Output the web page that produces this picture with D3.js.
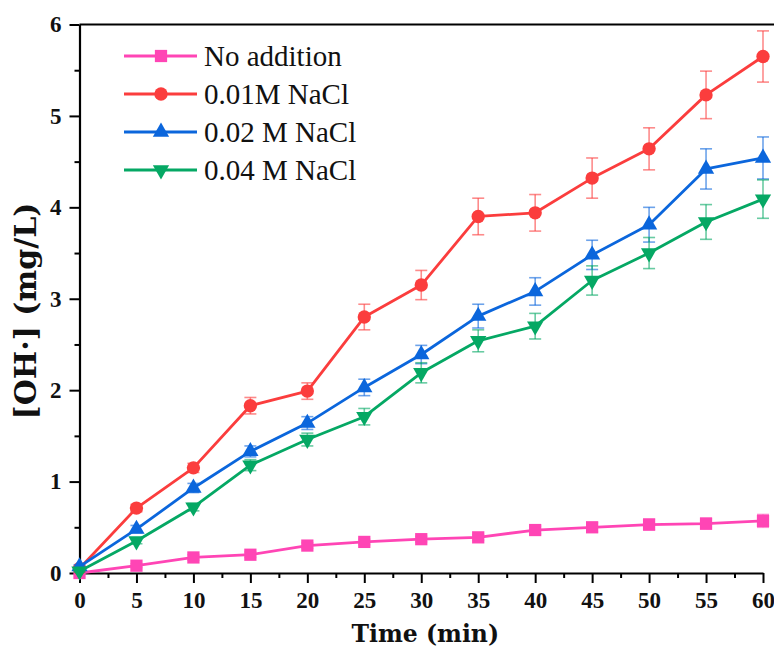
<!DOCTYPE html>
<html>
<head>
<meta charset="utf-8">
<script src="https://cdn.jsdelivr.net/npm/d3@7"></script>
<style>
  html, body { margin: 0; padding: 0; background: #ffffff; }
  svg { display: block; }
</style>
</head>
<body>
<svg id="chart" width="774" height="648"></svg>
<script>
// Sampling times (min)
const times = [0, 5, 10, 15, 20, 25, 30, 35, 40, 45, 50, 55, 60];

// Hydroxyl radical concentration (mg/L) and standard deviations
const noAddition    = [0.00, 0.08, 0.17, 0.20, 0.30, 0.34, 0.37, 0.39, 0.47, 0.50, 0.53, 0.54, 0.57];
const noAdditionErr = [0.00, 0.02, 0.03, 0.03, 0.03, 0.03, 0.03, 0.03, 0.04, 0.05, 0.06, 0.06, 0.07];
const nacl001       = [0.05, 0.71, 1.15, 1.83, 1.99, 2.80, 3.15, 3.90, 3.94, 4.32, 4.64, 5.23, 5.65];
const nacl001Err    = [0.02, 0.04, 0.05, 0.09, 0.09, 0.14, 0.16, 0.20, 0.20, 0.22, 0.23, 0.26, 0.28];
const nacl002       = [0.07, 0.48, 0.93, 1.33, 1.64, 2.03, 2.39, 2.81, 3.08, 3.48, 3.81, 4.42, 4.54];
const nacl002Err    = [0.02, 0.04, 0.05, 0.06, 0.07, 0.09, 0.10, 0.13, 0.15, 0.16, 0.19, 0.22, 0.23];
const nacl004       = [0.02, 0.35, 0.72, 1.18, 1.46, 1.71, 2.19, 2.54, 2.70, 3.20, 3.50, 3.84, 4.09];
const nacl004Err    = [0.01, 0.03, 0.04, 0.06, 0.07, 0.09, 0.11, 0.12, 0.14, 0.16, 0.17, 0.19, 0.21];

const seriesNames = ["No addition", "0.01M NaCl", "0.02 M NaCl", "0.04 M NaCl"];
const seriesColors = ["#ff45b5", "#fb3d3d", "#0b66dc", "#05a864"];

const xTicks = [0, 5, 10, 15, 20, 25, 30, 35, 40, 45, 50, 55, 60];
const yTicks = [0, 1, 2, 3, 4, 5, 6];

const series = [
  { name: seriesNames[0], values: noAddition, errors: noAdditionErr, color: seriesColors[0], shape: "square" },
  { name: seriesNames[1], values: nacl001,    errors: nacl001Err,    color: seriesColors[1], shape: "circle" },
  { name: seriesNames[2], values: nacl002,    errors: nacl002Err,    color: seriesColors[2], shape: "up" },
  { name: seriesNames[3], values: nacl004,    errors: nacl004Err,    color: seriesColors[3], shape: "down" }
];

const svg = d3.select("#chart");
const plot = { left: 79.5, right: 763, top: 24.5, bottom: 573 };

const x = d3.scaleLinear().domain([0, 60]).range([plot.left, plot.right]);
const y = d3.scaleLinear().domain([0, 6]).range([plot.bottom, plot.top]);

const tickFont = "'Liberation Serif', 'Times New Roman', serif";
const titleFont = "'DejaVu Serif', serif";

// Minor ticks
const gx = svg.append("g").attr("transform", `translate(0,${plot.bottom})`);
gx.call(d3.axisBottom(x).tickValues(d3.range(2.5, 60, 5)).tickSize(5).tickFormat(""));
gx.call(g => g.select(".domain").remove());
const gy = svg.append("g").attr("transform", `translate(${plot.left},0)`);
gy.call(d3.axisLeft(y).tickValues(d3.range(0.5, 6, 1)).tickSize(5).tickFormat(""));
gy.call(g => g.select(".domain").remove());
[gx, gy].forEach(g => g.selectAll("line").attr("stroke", "#000").attr("stroke-width", 2));

// Major ticks with labels
const xAxis = svg.append("g").attr("transform", `translate(0,${plot.bottom})`)
  .call(d3.axisBottom(x).tickValues(xTicks).tickSize(10).tickPadding(9).tickSizeOuter(0).tickFormat(d3.format("d")));
const yAxis = svg.append("g").attr("transform", `translate(${plot.left},0)`)
  .call(d3.axisLeft(y).tickValues(yTicks).tickSize(10).tickPadding(8).tickSizeOuter(0).tickFormat(d3.format("d")));
[xAxis, yAxis].forEach(g => {
  g.select(".domain").attr("stroke", "#000").attr("stroke-width", 2.2);
  g.selectAll(".tick line").attr("stroke", "#000").attr("stroke-width", 2);
  g.selectAll(".tick text")
    .attr("fill", "#111")
    .style("font-family", tickFont)
    .style("font-weight", "bold")
    .style("font-size", "23px");
});

// Top frame line, running off the right edge
svg.append("line")
  .attr("x1", plot.left).attr("x2", 780)
  .attr("y1", plot.top).attr("y2", plot.top)
  .attr("stroke", "#000").attr("stroke-width", 2.2);

// Axis titles
svg.append("text")
  .attr("x", (plot.left + plot.right) / 2 + 4).attr("y", 642)
  .attr("text-anchor", "middle")
  .style("font-family", titleFont).style("font-weight", "bold").style("font-size", "23.5px")
  .attr("fill", "#111")
  .text("Time (min)");

svg.append("text")
  .attr("transform", "translate(36,311) rotate(-90)")
  .attr("text-anchor", "middle")
  .style("font-family", titleFont).style("font-weight", "bold").style("font-size", "30px")
  .attr("fill", "#111")
  .text("[OH·] (mg/L)");

// Marker path generator
function markerPath(shape) {
  if (shape === "square") return d3.symbol().type(d3.symbolSquare).size(150)();
  if (shape === "circle") return d3.symbol().type(d3.symbolCircle).size(140)();
  return d3.symbol().type(d3.symbolTriangle).size(115)();
}
function markerTransform(shape, px, py) {
  return shape === "down" ? `translate(${px},${py}) rotate(180)` : `translate(${px},${py})`;
}

const line = d3.line().x(d => x(d.t)).y(d => y(d.v));

series.forEach(s => {
  const pts = times.map((t, i) => ({ t, v: s.values[i], e: s.errors[i] }));
  const g = svg.append("g");

  // Error bars
  const eb = g.append("g")
    .attr("stroke", s.color).attr("stroke-opacity", 0.6).attr("stroke-width", 1.6).attr("fill", "none");
  pts.filter(p => p.e > 0).forEach(p => {
    const cx = x(p.t), y1 = y(p.v + p.e), y2 = y(p.v - p.e);
    eb.append("line").attr("x1", cx).attr("x2", cx).attr("y1", y1).attr("y2", y2);
    eb.append("line").attr("x1", cx - 6).attr("x2", cx + 6).attr("y1", y1).attr("y2", y1);
    eb.append("line").attr("x1", cx - 6).attr("x2", cx + 6).attr("y1", y2).attr("y2", y2);
  });

  g.append("path").datum(pts)
    .attr("d", line)
    .attr("fill", "none").attr("stroke", s.color).attr("stroke-width", 2.8)
    .attr("stroke-linejoin", "round");

  g.selectAll("path.mk").data(pts).join("path")
    .attr("class", "mk")
    .attr("d", markerPath(s.shape))
    .attr("transform", d => markerTransform(s.shape, x(d.t), y(d.v)))
    .attr("fill", s.color);
});

// Legend
const legendRows = [56, 94, 132, 170];
const legend = svg.append("g");
series.forEach((s, i) => {
  const ly = legendRows[i];
  legend.append("line")
    .attr("x1", 124).attr("x2", 197).attr("y1", ly).attr("y2", ly)
    .attr("stroke", s.color).attr("stroke-width", 2.8);
  legend.append("path")
    .attr("d", markerPath(s.shape))
    .attr("transform", markerTransform(s.shape, 161, ly))
    .attr("fill", s.color);
  legend.append("text")
    .attr("x", 204).attr("y", ly).attr("dy", "0.34em")
    .style("font-family", tickFont).style("font-size", "29px")
    .attr("fill", "#111")
    .text(s.name);
});
</script>
</body>
</html>
